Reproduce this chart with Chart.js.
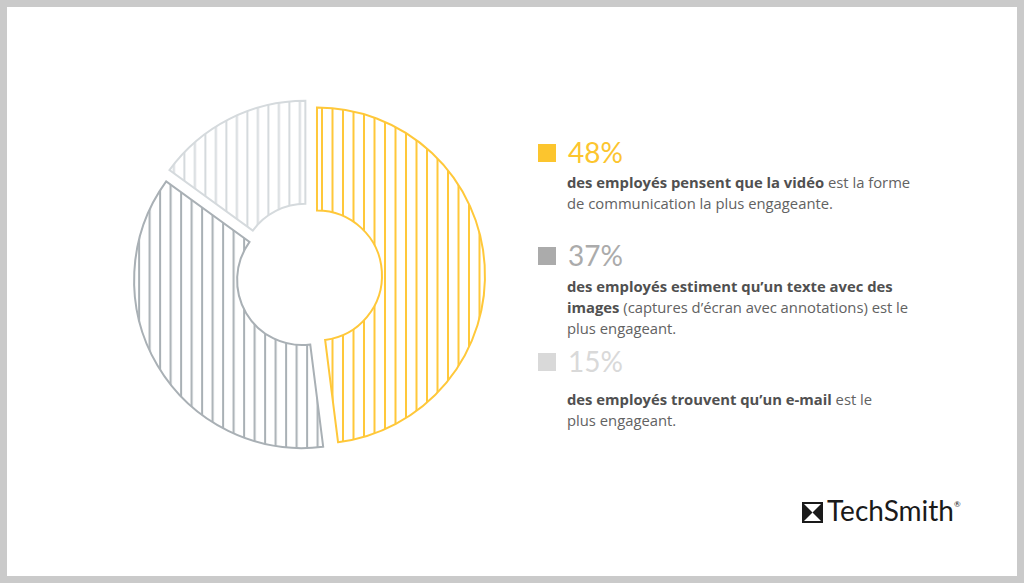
<!DOCTYPE html>
<html lang="fr">
  <head>
    <meta charset="UTF-8" />
    <title>Forme de communication la plus engageante</title>
    <script src="https://cdn.jsdelivr.net/npm/chart.js"></script>
    <style>
      html,
      body {
        margin: 0;
        padding: 0;
        width: 1024px;
        height: 583px;
        overflow: hidden;
        background: #ffffff;
      }
      #frame {
        position: absolute;
        left: 0;
        top: 0;
        width: 1024px;
        height: 583px;
        box-sizing: border-box;
        border: 7px solid #cacaca;
      }
      #donut {
        position: absolute;
        left: 99px;
        top: 66px;
      }
      .pct {
        position: absolute;
        font-family: Lato, sans-serif;
        font-size: 28px;
        line-height: 28px;
        white-space: nowrap;
      }
      .swatch {
        position: absolute;
        width: 18px;
        height: 18px;
      }
      .desc {
        position: absolute;
        font-family: "Open Sans", sans-serif;
        font-size: 14.8px;
        line-height: 21px;
        color: #626262;
        white-space: nowrap;
      }
      .desc b {
        color: #505050;
        font-weight: 700;
      }
      #logo {
        position: absolute;
        left: 802px;
        top: 493px;
        font-family: Lato, sans-serif;
        font-size: 28px;
        font-weight: 400;
        color: #1a1a1a;
        white-space: nowrap;
      }
      #logo svg {
        vertical-align: -2px;
        margin-right: 4px;
      }
      #logo sup {
        font-size: 8px;
        vertical-align: 14px;
      }
    </style>
  </head>
  <body>
    <div id="frame"></div>
    <canvas id="donut" width="420" height="420"></canvas>
    <div id="legend"></div>
    <div id="logo">
      <svg width="21" height="21" viewBox="0 0 21 21">
        <rect x="1" y="1" width="19" height="19" fill="none" stroke="#1a1a1a" stroke-width="2" />
        <polygon points="1,1 10.5,10.5 1,20" fill="#1a1a1a" />
        <polygon points="20,1 10.5,10.5 20,20" fill="#1a1a1a" />
      </svg>TechSmith<sup>®</sup>
    </div>
    <script>
      // Data
      const labels = ["Vidéo", "Texte avec images", "E-mail"];
      const values = [48, 37, 15];
      const sliceColors = ["#FFC83A", "#A9B0B5", "#D5DADD"];
      const swatchColors = ["#FCC52E", "#ABABAB", "#D9D9D9"];
      const descriptions = [
        "<b>des employés pensent que la vidéo</b> est la forme<br>de communication la plus engageante.",
        "<b>des employés estiment qu’un texte avec des<br>images</b> (captures d’écran avec annotations) est le<br>plus engageant.",
        "<b>des employés trouvent qu’un e-mail</b> est le<br>plus engageant.",
      ];

      // legend layout (top of each block)
      const blockTops = [138, 241, 347];
      const descTops = [172, 276, 389];

      const legend = document.getElementById("legend");
      values.forEach((v, i) => {
        const sw = document.createElement("div");
        sw.className = "swatch";
        sw.style.left = "538px";
        sw.style.top = blockTops[i] + 6 + "px";
        sw.style.background = swatchColors[i];
        legend.appendChild(sw);

        const pct = document.createElement("div");
        pct.className = "pct";
        pct.style.left = "568px";
        pct.style.top = blockTops[i] + "px";
        pct.style.color = swatchColors[i];
        pct.textContent = v + "%";
        legend.appendChild(pct);

        const d = document.createElement("div");
        d.className = "desc";
        d.style.left = "567px";
        d.style.top = descTops[i] + "px";
        d.innerHTML = descriptions[i];
        legend.appendChild(d);
      });

      // vertical hatch pattern in the slice colour
      function hatch(color) {
        const tile = document.createElement("canvas");
        tile.width = 21;
        tile.height = 8;
        const c = tile.getContext("2d");
        c.fillStyle = color;
        c.fillRect(4, 0, 2, 8);
        c.fillRect(14.5, 0, 2, 8);
        return c.createPattern(tile, "repeat");
      }

      // arc that is pushed out along its middle angle
      const EXPLODE = 8;
      const RADIUS = 168;
      const HOLE = 65;
      class ExplodedArc extends Chart.ArcElement {
        draw(ctx) {
          const mid = (this.startAngle + this.endAngle) / 2;
          ctx.save();
          ctx.translate(Math.cos(mid) * EXPLODE, Math.sin(mid) * EXPLODE);
          super.draw(ctx);
          ctx.restore();
        }
      }
      ExplodedArc.id = "explodedArc";
      ExplodedArc.defaults = Chart.ArcElement.defaults;

      class ExplodedDoughnut extends Chart.DoughnutController {}
      ExplodedDoughnut.id = "explodedDoughnut";
      ExplodedDoughnut.defaults = Object.assign({}, Chart.DoughnutController.defaults, {
        dataElementType: "explodedArc",
      });
      ExplodedDoughnut.overrides = Chart.DoughnutController.overrides;
      Chart.register(ExplodedArc, ExplodedDoughnut);

      new Chart(document.getElementById("donut"), {
        type: "explodedDoughnut",
        data: {
          labels: labels,
          datasets: [
            {
              data: values,
              backgroundColor: sliceColors.map(hatch),
              borderColor: sliceColors,
              borderWidth: 2,
              borderJoinStyle: "miter",
              borderAlign: "center",
              hoverOffset: 0,
            },
          ],
        },
        options: {
          responsive: false,
          animation: false,
          events: [],
          radius: RADIUS,
          cutout: (HOLE / RADIUS) * 100 + "%",
          layout: { padding: 0 },
          plugins: {
            legend: { display: false },
            tooltip: { enabled: false },
          },
        },
      });
    </script>
  </body>
</html>
